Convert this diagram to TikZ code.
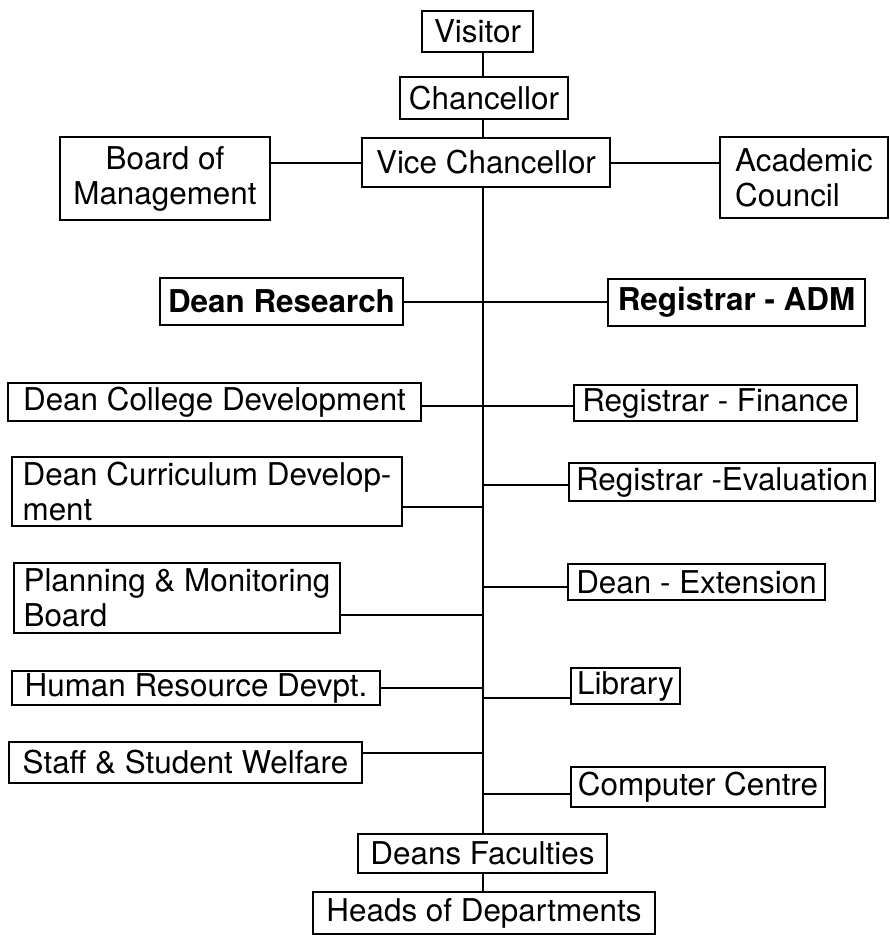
\documentclass[tikz,border=0pt]{standalone}
\usepackage{fontspec}
\setmainfont{TeX Gyre Heros}

\begin{document}
\begin{tikzpicture}[x=1pt, y=-1pt,
      office/.style={draw, line width=2pt, inner sep=0pt, align=center, font=\fontsize{31.4}{35}\selectfont},
      link/.style={line width=2pt}
    ]
      \useasboundingbox (0,0) rectangle (890,935);
      % top of the chart
      \node[office, minimum width=111, minimum height=41] (visitor) at (477.5,31.5) {Visitor};
      \node[office, minimum width=168, minimum height=42] (chancellor) at (484,98) {Chancellor};
      \node[office, minimum width=248, minimum height=49] (vc) at (486,162.5) {Vice Chancellor};
      \node[office, minimum width=210, minimum height=83] (bom) at (165,178.5) {Board of\\Management};
      \node[office, align=left, minimum width=168, minimum height=81] (ac) at (804,177.5) {Academic\\Council};
      \node[office, minimum width=243, minimum height=47] (dr) at (281.5,301.5) {\bfseries Dean Research};
      \node[office, minimum width=257, minimum height=47] (adm) at (736.5,302.5) {\bfseries Registrar - ADM};
      % left column
      \node[office, minimum width=413, minimum height=38] (dcd) at (214.5,402) {Dean College Development};
      \node[office, align=left, minimum width=390, minimum height=69] (cur) at (207,491.5) {Dean Curriculum Develop-\\ment};
      \node[office, align=left, minimum width=326, minimum height=70] (plan) at (177,598) {Planning \& Monitoring\\Board};
      \node[office, minimum width=368, minimum height=34] (hr) at (196,688) {Human Resource Devpt.};
      \node[office, minimum width=353, minimum height=41] (staff) at (185.5,762.5) {Staff \& Student Welfare};
      % right column
      \node[office, minimum width=283, minimum height=36] (fin) at (715.5,403) {Registrar - Finance};
      \node[office, minimum width=306, minimum height=38] (eval) at (722,482) {Registrar -Evaluation};
      \node[office, minimum width=257, minimum height=36] (ext) at (696.5,582) {Dean - Extension};
      \node[office, minimum width=109, minimum height=36] (lib) at (625.5,686) {Library};
      \node[office, minimum width=254, minimum height=40] (cc) at (698,787) {Computer Centre};
      % bottom
      \node[office, minimum width=249, minimum height=39] (df) at (482.5,853.5) {Deans Faculties};
      \node[office, minimum width=342, minimum height=42] (hod) at (484,913) {Heads of Departments};

      % spine and links
      \draw[link] (visitor.south -| df.north) -- (chancellor.north -| df.north);
      \draw[link] (chancellor.south -| df.north) -- (vc.north -| df.north);
      \draw[link] (vc.south -| df.north) -- (df.north);
      \draw[link] (df.south -| df.north) -- (hod.north -| df.north);
      \draw[link] (bom.east |- vc.west) -- (vc.west);
      \draw[link] (vc.east) -- (ac.west |- vc.east);
      \draw[link] (dr.east) -- (adm.west |- dr.east);
      \draw[link] ([yshift=-4pt]dcd.east) -- ([yshift=-4pt]fin.west |- dcd.east);
      \draw[link] ([yshift=-15.5pt]cur.east) -- ([yshift=-15.5pt]cur.east -| df.north);
      \draw[link] ([yshift=-17pt]plan.east) -- ([yshift=-17pt]plan.east -| df.north);
      \draw[link] (hr.east) -- (hr.east -| df.north);
      \draw[link] ([yshift=9.5pt]staff.east) -- ([yshift=9.5pt]staff.east -| df.north);
      \draw[link] ([yshift=-3pt]eval.west) -- ([yshift=-3pt]eval.west -| df.north);
      \draw[link] ([yshift=-5pt]ext.west) -- ([yshift=-5pt]ext.west -| df.north);
      \draw[link] ([yshift=-12pt]lib.west) -- ([yshift=-12pt]lib.west -| df.north);
      \draw[link] ([yshift=-7pt]cc.west) -- ([yshift=-7pt]cc.west -| df.north);
    \end{tikzpicture}
\end{document}
